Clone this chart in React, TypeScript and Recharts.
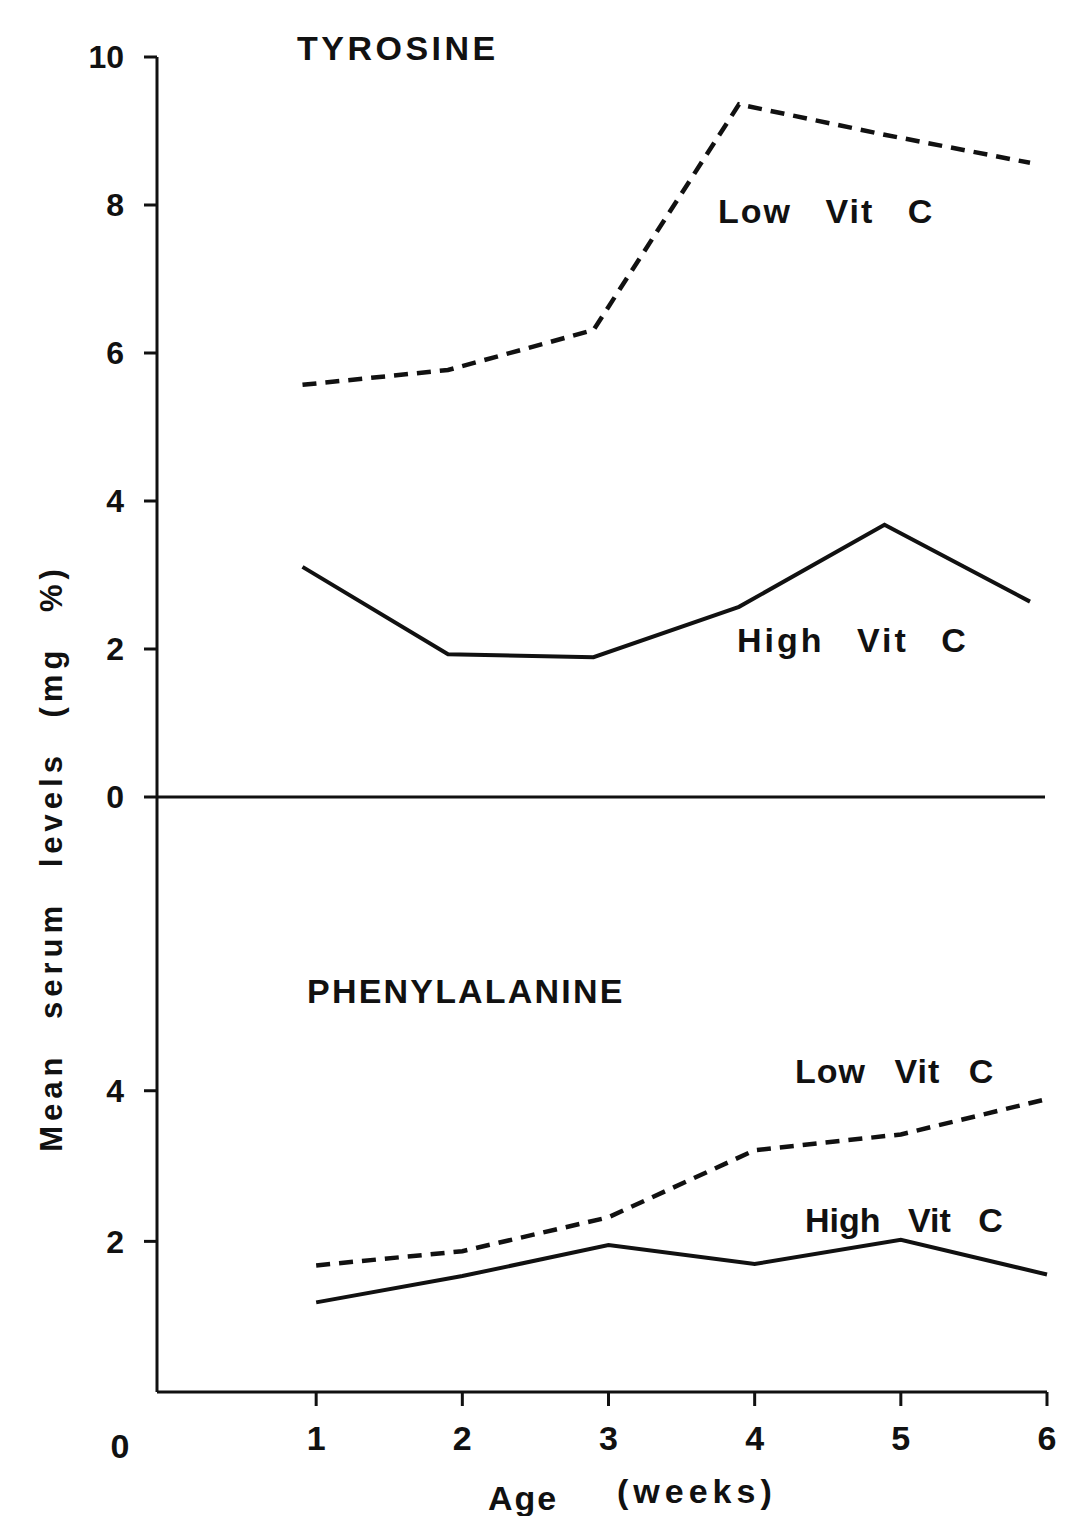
import { LineChart, Line, XAxis, YAxis } from 'recharts';

// age in weeks
const weeks = [1, 2, 3, 4, 5, 6];

// mean serum tyrosine (mg %)
const tyrosineLowVitC = [5.57, 5.77, 6.31, 9.36, 8.95, 8.57];
const tyrosineHighVitC = [3.11, 1.93, 1.89, 2.57, 3.68, 2.64];

// mean serum phenylalanine (mg %)
const pheLowVitC = [1.68, 1.87, 2.32, 3.21, 3.42, 3.89];
const pheHighVitC = [1.19, 1.54, 1.95, 1.7, 2.02, 1.56];

const tyrosineTicks = [0, 2, 4, 6, 8, 10];
const pheTicks = [2, 4];
const weekTicks = [1, 2, 3, 4, 5, 6];

const INK = '#111';
const FONT = '"Liberation Sans", Arial, sans-serif';

const tyrosineRows = weeks.map((week, i) => ({
  week,
  low: tyrosineLowVitC[i],
  high: tyrosineHighVitC[i],
}));

const pheRows = weeks.map((week, i) => ({
  week,
  low: pheLowVitC[i],
  high: pheHighVitC[i],
}));

const tickStyle = { fontSize: 32, fontWeight: 'bold', fill: INK, fontFamily: FONT };
const axisStroke = { stroke: INK, strokeWidth: 3 };

export default function App() {
  return (
    <div style={{ position: 'absolute', left: 0, top: 0, width: 1066, height: 1516, background: '#fff' }}>
      {/* bottom panel: phenylalanine (drawn first, underneath) */}
      <div style={{ position: 'absolute', left: 0, top: 0 }}>
        <LineChart width={1066} height={1516} data={pheRows} margin={{ top: 797, right: 19, bottom: 0, left: 0 }}>
          <XAxis
            dataKey="week"
            type="number"
            domain={[0, 6]}
            ticks={weekTicks}
            interval={0}
            padding={{ left: 13, right: 0 }}
            height={124}
            tickSize={14}
            tickMargin={20}
            tick={{ ...tickStyle, fontSize: 34 }}
            tickLine={axisStroke}
            axisLine={axisStroke}
          />
          <YAxis
            type="number"
            domain={[0, 7.9]}
            ticks={pheTicks}
            interval={0}
            width={157}
            tickSize={13}
            tickMargin={20}
            tick={tickStyle}
            tickLine={axisStroke}
            axisLine={axisStroke}
          />
          <Line
            type="linear"
            dataKey="low"
            stroke={INK}
            strokeWidth={4.5}
            strokeDasharray="14 9"
            dot={false}
            isAnimationActive={false}
          />
          <Line type="linear" dataKey="high" stroke={INK} strokeWidth={4} dot={false} isAnimationActive={false} />
        </LineChart>
      </div>

      {/* top panel: tyrosine */}
      <div style={{ position: 'absolute', left: 0, top: 0 }}>
        <LineChart width={1066} height={840} data={tyrosineRows} margin={{ top: 57, right: 21, bottom: 41, left: 0 }}>
          <XAxis
            dataKey="week"
            type="number"
            domain={[0, 6]}
            padding={{ left: 0, right: 15 }}
            tick={false}
            tickLine={false}
            height={2}
            axisLine={axisStroke}
          />
          <YAxis
            type="number"
            domain={[0, 10]}
            ticks={tyrosineTicks}
            interval={0}
            width={157}
            tickSize={13}
            tickMargin={20}
            tick={tickStyle}
            tickLine={axisStroke}
            axisLine={axisStroke}
          />
          <Line
            type="linear"
            dataKey="low"
            stroke={INK}
            strokeWidth={4.5}
            strokeDasharray="14 9"
            dot={false}
            isAnimationActive={false}
          />
          <Line type="linear" dataKey="high" stroke={INK} strokeWidth={4} dot={false} isAnimationActive={false} />
        </LineChart>
      </div>

      {/* titles, series labels and axis captions */}
      <svg
        width={1066}
        height={1516}
        style={{ position: 'absolute', left: 0, top: 0, pointerEvents: 'none' }}
        fontFamily={FONT}
        fontWeight="bold"
        fill={INK}
      >
        <text x={297} y={60} fontSize={34} letterSpacing={3.5}>TYROSINE</text>
        <text x={718} y={223} fontSize={34} letterSpacing={2} style={{ wordSpacing: 22 }}>Low Vit C</text>
        <text x={737} y={652} fontSize={34} letterSpacing={3} style={{ wordSpacing: 20 }}>High Vit C</text>

        <text x={307} y={1003} fontSize={34} letterSpacing={2.2}>PHENYLALANINE</text>
        <text x={795} y={1083} fontSize={34} letterSpacing={1} style={{ wordSpacing: 18 }}>Low Vit C</text>
        <text x={805} y={1232} fontSize={34} style={{ wordSpacing: 18 }}>High Vit C</text>

        <text x={120} y={1458} fontSize={34} textAnchor="middle">0</text>
        <text x={488} y={1510} fontSize={34} letterSpacing={2}>Age</text>
        <text x={617} y={1503} fontSize={34} letterSpacing={5}>(weeks)</text>

        <text
          transform="translate(62,858) rotate(-90)"
          fontSize={31}
          textAnchor="middle"
          letterSpacing={5}
          style={{ wordSpacing: 20 }}
        >
          Mean serum levels (mg %)
        </text>
      </svg>
    </div>
  );
}
